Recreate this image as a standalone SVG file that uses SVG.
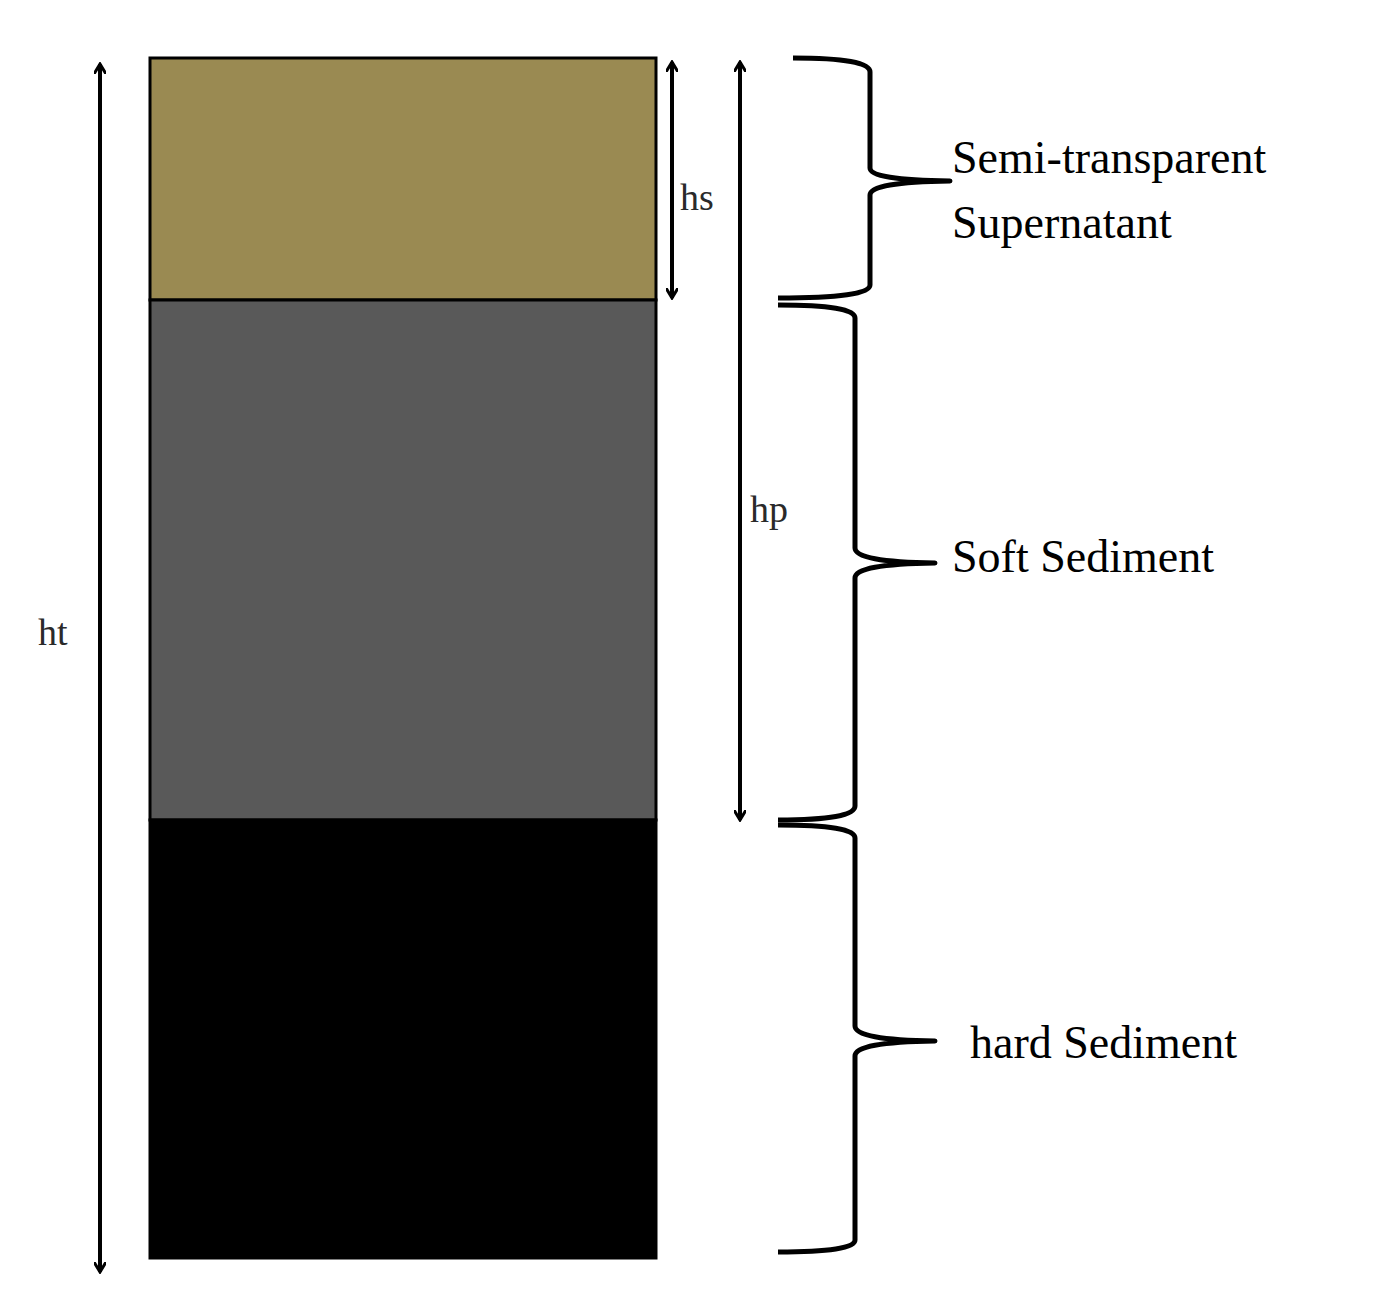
<svg xmlns="http://www.w3.org/2000/svg" width="1382" height="1313" viewBox="0 0 1382 1313">
<style>
.l{fill:none;stroke:#000;stroke-width:4}
.b{fill:none;stroke:#000;stroke-width:5;stroke-linejoin:round}
.t{font-family:"Liberation Serif",serif;font-size:46px;fill:#000}
.d{font-family:"Liberation Serif",serif;font-size:38px;fill:#2a2a2a}
</style>
<defs><marker id="a" markerWidth="12" markerHeight="12" refX="10" refY="6" orient="auto-start-reverse" markerUnits="userSpaceOnUse"><path d="M0,0 L10,6 L0,12" fill="none" stroke="#000" stroke-width="3"/></marker></defs>
<rect width="1382" height="1313" fill="#fff"/>
<g id="layers">
<rect id="supernatant" x="150" y="58" width="506" height="242" fill="#9a8a52" stroke="#000" stroke-width="3"/>
<rect id="soft" x="150" y="300" width="506" height="520" fill="#595959" stroke="#000" stroke-width="3"/>
<rect id="hard" x="150" y="820" width="506" height="438" fill="#000" stroke="#000" stroke-width="3"/>
</g>
<g id="connectors">
<line class="l" x1="100" y1="64" x2="100" y2="1272" marker-start="url(#a)" marker-end="url(#a)"/>
<line class="l" x1="672" y1="62" x2="672" y2="298" marker-start="url(#a)" marker-end="url(#a)"/>
<line class="l" x1="740" y1="62" x2="740" y2="820" marker-start="url(#a)" marker-end="url(#a)"/>
<path class="b" d="M793,58 Q870,58 870,72 L870,168 Q870,180 950,181 Q870,182 870,195 L870,285 Q870,298 778,298"/>
<path class="b" d="M778,305 Q855,305 855,318 L855,548 Q855,562 935,563 Q855,564 855,578 L855,806 Q855,820 778,820"/>
<path class="b" d="M778,825 Q855,825 855,838 L855,1026 Q855,1040 935,1041 Q855,1042 855,1056 L855,1240 Q855,1252 778,1252"/>
</g>
<g id="labels">
<text class="d" x="38" y="645">ht</text>
<text class="d" x="680" y="210">hs</text>
<text class="d" x="750" y="522">hp</text>
<text class="t" x="952" y="173">Semi-transparent</text>
<text class="t" x="952" y="238">Supernatant</text>
<text class="t" x="952" y="572">Soft Sediment</text>
<text class="t" x="970" y="1058">hard Sediment</text>
</g>
</svg>
